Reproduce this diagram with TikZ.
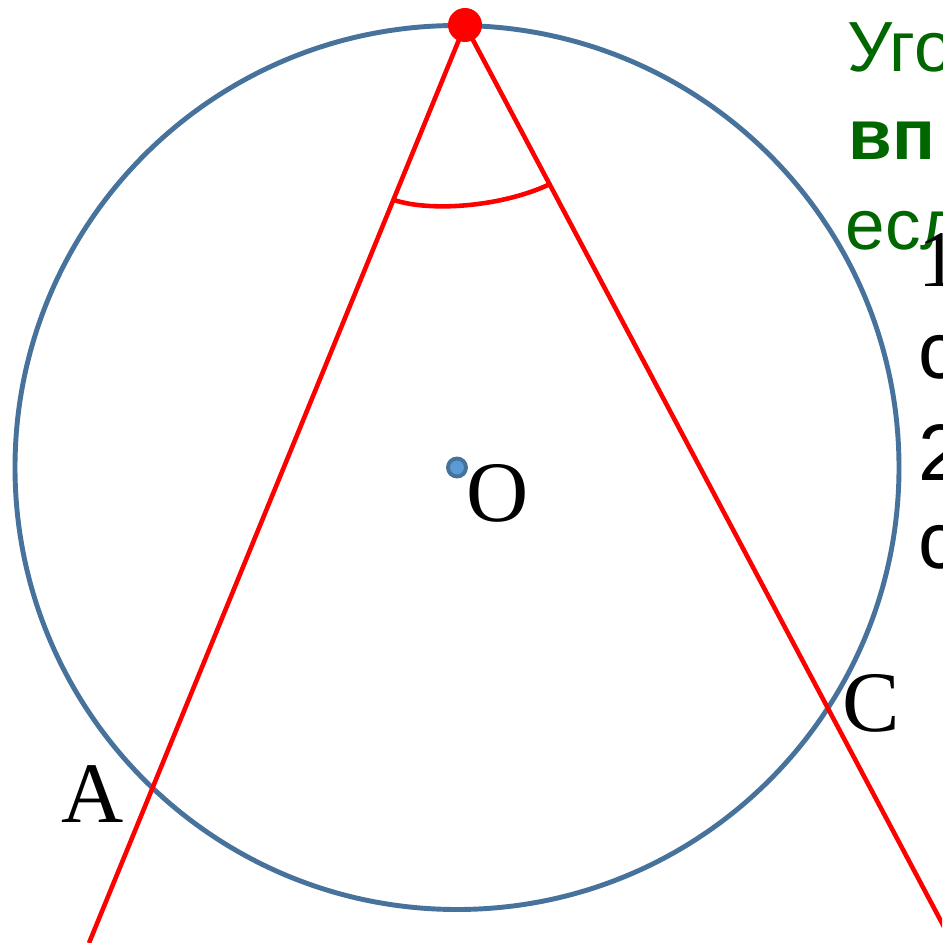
\documentclass[tikz,border=0pt]{standalone}
\usepackage{fontspec}
\setmainfont{Liberation Serif}
\newfontfamily\slidesans{Liberation Sans}
\usetikzlibrary{positioning}
\definecolor{RingBlue}{RGB}{70,114,156}
\definecolor{DotBlue}{RGB}{91,155,213}
\definecolor{TitleGreen}{RGB}{0,102,0}

\begin{document}
\begin{tikzpicture}[
  x=0.01cm, y=-0.01cm,
  ring/.style={draw=RingBlue, line width=1.4pt},
  chord/.style={draw=red, line width=1.3pt},
  ptlabel/.style={font=\fontsize{24.5}{28}\selectfont, inner sep=0pt},
  headline/.style={font=\slidesans\fontsize{20.2}{24}\selectfont, text=TitleGreen, inner sep=0pt, anchor=base west},
  bodyline/.style={font=\slidesans\fontsize{22.8}{27}\selectfont, inner sep=0pt, anchor=base west},
]
  \useasboundingbox (0,0) rectangle (942,943);
  \clip (0,0) rectangle (942,943);

  % circle and the inscribed angle
  \coordinate (O) at (457,467.5);
  \coordinate (B) at (465,25);
  \coordinate (Aend) at (89,943);
  \coordinate (Cend) at (960,957);
  \draw[ring] (O) circle[radius=442];
  \draw[chord] (B) -- (Aend);
  \draw[chord] (B) -- (Cend);
  \draw[chord] (394,200) .. controls (430,212) and (500,207) .. (548,185);

  \fill[red] (B) circle[radius=17];
  \filldraw[fill=DotBlue, draw=RingBlue, line width=1.1pt] (O) circle[radius=9];

  \node[ptlabel] (A) at (93,794) {A};
  \node[ptlabel] (Olabel) at (498,493) {O};
  \node[ptlabel] (C) at (871,703) {C};

  % text on the right, cut by the frame
  \node[headline] (head1) at (847,72) {Уго};
  \node[headline, font=\slidesans\bfseries\fontsize{20.2}{24}\selectfont] (head2) at (848,160) {вп};
  \node[headline] (head3) at (845,250) {есл};
  \node[bodyline, font=\rmfamily\fontsize{22.8}{27}\selectfont] (item1) at (918,287) {1};
  \node[bodyline] (item1b) at (918,378) {с};
  \node[bodyline] (item2) at (918,480) {2};
  \node[bodyline] (item2b) at (918,568) {с};
\end{tikzpicture}
\end{document}
